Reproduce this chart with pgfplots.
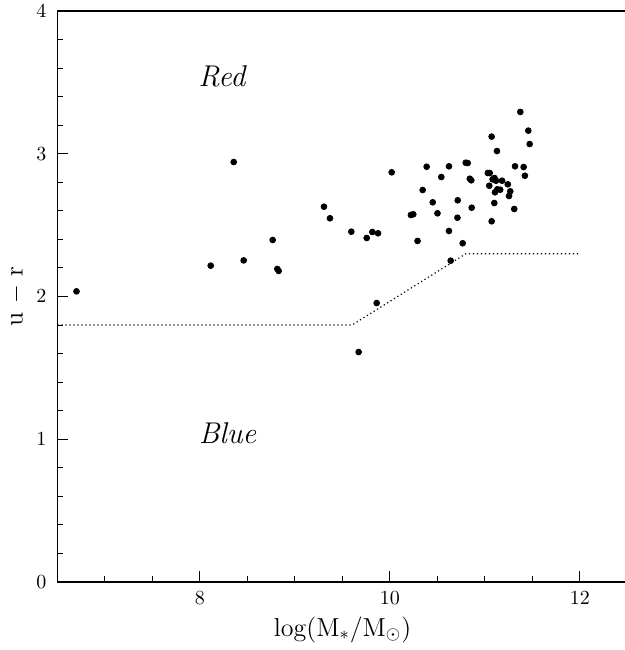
\documentclass[border=0pt]{standalone}
\usepackage{pgfplots}
\pgfplotsset{compat=1.18}
\begin{document}
\begin{tikzpicture}
\begin{axis}[
  name=ax,
  at={(0,0)}, anchor=south west,
  scale only axis,
  width=285pt, height=285.5pt,
  xmin=6.5, xmax=12.5, ymin=0, ymax=4,
  xtick={8,10,12},
  minor xtick={7,7.5,8.5,9,9.5,10.5,11,11.5},
  ytick={0,1,2,3,4},
  minor ytick={0.2,0.4,0.6,0.8,1.2,1.4,1.6,1.8,2.2,2.4,2.6,2.8,3.2,3.4,3.6,3.8},
  tick pos=left,
  tick align=inside,
  major tick length=5.5pt,
  minor tick length=3pt,
  every tick/.style={black, line width=0.5pt},
  axis line style={line width=0.8pt, black},
  tick label style={font=\fontsize{10}{11}\selectfont},
  xticklabel style={yshift=-1.5pt},
  yticklabel style={xshift=-2pt},
  xlabel={log(M$_*$/M$_\odot$)},
  ylabel={u\,\,$-$\,\,r},
  label style={font=\fontsize{13}{15}\selectfont},
  xlabel style={yshift=1pt},
  ylabel style={yshift=-1pt},
]
\addplot[only marks, mark=*, mark size=1.45pt, black] coordinates {
(6.70,2.036)
(8.113,2.216)
(8.355,2.942)
(8.46,2.253)
(8.765,2.396)
(8.814,2.193)
(8.828,2.179)
(9.305,2.629)
(9.368,2.548)
(9.593,2.454)
(9.755,2.41)
(9.814,2.452)
(9.874,2.443)
(9.86,1.954)
(9.67,1.611)
(10.018,2.870)
(10.22,2.571)
(10.245,2.576)
(10.29,2.389)
(10.344,2.746)
(10.386,2.909)
(10.45,2.66)
(10.50,2.583)
(10.54,2.837)
(10.621,2.912)
(10.621,2.459)
(10.639,2.251)
(10.71,2.552)
(10.713,2.674)
(10.765,2.373)
(10.797,2.937)
(10.818,2.935)
(10.84,2.825)
(10.856,2.814)
(10.86,2.622)
(11.03,2.865)
(11.05,2.865)
(11.045,2.776)
(11.07,3.12)
(11.07,2.527)
(11.08,2.821)
(11.098,2.655)
(11.10,2.830)
(11.105,2.730)
(11.116,2.811)
(11.126,3.019)
(11.13,2.751)
(11.16,2.748)
(11.18,2.811)
(11.24,2.786)
(11.253,2.704)
(11.266,2.737)
(11.308,2.613)
(11.316,2.912)
(11.372,3.293)
(11.407,2.907)
(11.42,2.846)
(11.456,3.162)
(11.47,3.068)
};
\addplot[black, line width=0.6pt, dash pattern=on 0.6pt off 1.4pt] coordinates {
(6.5,1.8) (9.6,1.8) (10.8,2.3) (12.0,2.3)
};
\node[font=\itshape\fontsize{15}{17}\selectfont] at (axis cs:8.23,3.54) {Red};
\node[font=\itshape\fontsize{15}{17}\selectfont] at (axis cs:8.29,1.04) {Blue};
\end{axis}
\pgfresetboundingbox
\path (ax.south west) ++(-28.75pt,-34pt) rectangle ++(312.5pt,325pt);
\end{tikzpicture}
\end{document}
